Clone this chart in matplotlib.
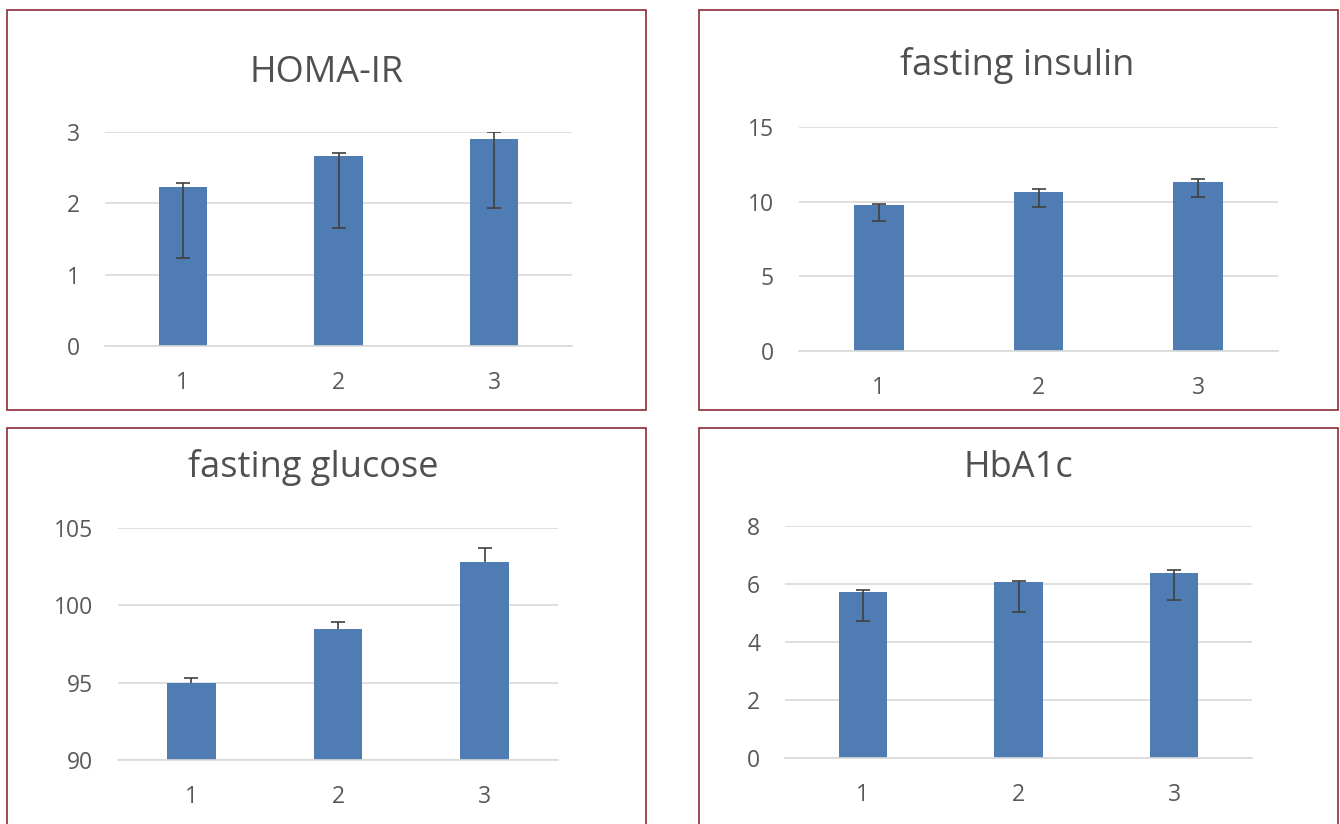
import matplotlib
matplotlib.use("Agg")
import matplotlib.pyplot as plt
from matplotlib.patches import Rectangle

plt.rcParams['font.family'] = ['Open Sans', 'DejaVu Sans']

groups = ['1', '2', '3']

homa_mean = [2.23, 2.66, 2.90]
homa_lo = [1.00, 1.00, 0.97]
homa_hi = [0.05, 0.04, 0.10]

insulin_mean = [9.76, 10.65, 11.29]
insulin_lo = [1.05, 1.03, 1.00]
insulin_hi = [0.09, 0.20, 0.25]

glucose_mean = [95.0, 98.45, 102.83]
glucose_lo = [0.0, 0.0, 0.0]
glucose_hi = [0.32, 0.45, 0.86]

hba1c_mean = [5.72, 6.06, 6.38]
hba1c_lo = [1.01, 1.01, 0.94]
hba1c_hi = [0.06, 0.04, 0.10]

W, H = 1340, 824
fig = plt.figure(figsize=(W / 100, H / 100), dpi=100)

BLUE = '#4f7db3'
GRID = '#d9d9d9'
TXT = '#595959'
BORDER = '#8c2b36'


def px_box(x0, y0, x1, y1):
    # pixel box (top-left origin) -> figure fraction [left, bottom, width, height]
    return [x0 / W, 1 - y1 / H, (x1 - x0) / W, (y1 - y0) / H]


# panel frames
for (x0, y0, x1, y1) in [(7, 10, 646, 410), (699, 10, 1338, 410),
                         (7, 428, 646, 840), (699, 428, 1338, 840)]:
    fig.patches.append(Rectangle((x0 / W, 1 - y1 / H), (x1 - x0) / W, (y1 - y0) / H,
                                 transform=fig.transFigure, fill=False,
                                 edgecolor=BORDER, linewidth=1.2, zorder=0))

panels = [
    ("HOMA-IR", homa_mean, homa_lo, homa_hi, (0, 3), [0, 1, 2, 3],
     px_box(105, 132, 572, 346), (327, 73), 0.31),
    ("fasting insulin", insulin_mean, insulin_lo, insulin_hi, (0, 15), [0, 5, 10, 15],
     px_box(799, 127, 1278, 351), (1017, 65), 0.31),
    ("fasting glucose", glucose_mean, glucose_lo, glucose_hi, (90, 105), [90, 95, 100, 105],
     px_box(118, 528, 558, 760), (313, 467), 0.33),
    ("HbA1c", hba1c_mean, hba1c_lo, hba1c_hi, (0, 8), [0, 2, 4, 6, 8],
     px_box(785, 526, 1252, 758), (1018, 468), 0.31),
]

for title, mean, lo, hi, ylim, yticks, box, tpos, bw in panels:
    ax = fig.add_axes(box)
    x = range(1, len(groups) + 1)
    base = ylim[0]
    ax.bar(x, [m - base for m in mean], bottom=base, width=bw, color=BLUE, zorder=2)
    eb = ax.errorbar(x, mean, yerr=[lo, hi], fmt='none', ecolor='#404040',
                     elinewidth=1.2, capsize=5, capthick=1.2, zorder=3)
    if max(lo) == 0:
        # plus-only error bars: hide the lower caps
        eb[1][0].set_visible(False)
    ax.set_xlim(0.5, 3.5)
    ax.set_ylim(*ylim)
    ax.set_yticks(yticks)
    ax.set_xticks(list(x))
    ax.set_xticklabels(groups)
    ax.yaxis.grid(True, color=GRID, linewidth=1.2, zorder=0)
    ax.set_axisbelow(True)
    for s in ['top', 'right', 'left']:
        ax.spines[s].set_visible(False)
    ax.spines['bottom'].set_color(GRID)
    ax.spines['bottom'].set_linewidth(1.2)
    ax.tick_params(axis='both', length=0, labelsize=16.5, labelcolor=TXT)
    ax.tick_params(axis='x', pad=18)
    ax.tick_params(axis='y', pad=18)
    fig.text(tpos[0] / W, 1 - tpos[1] / H, title, ha='center', va='center',
             fontsize=26, color='#505050')

fig.savefig('out.png', dpi=100, facecolor='white')
